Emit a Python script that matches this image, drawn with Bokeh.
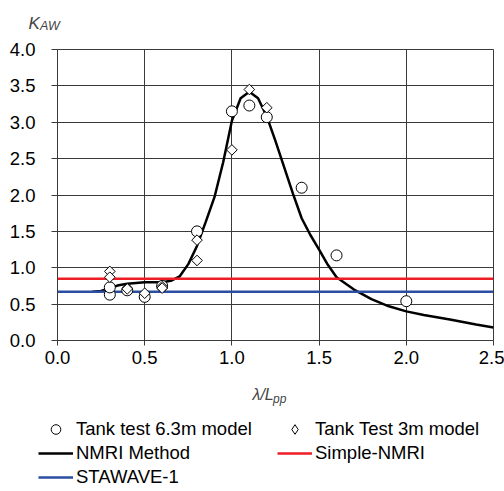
from bokeh.plotting import figure
from bokeh.layouts import column, row
from bokeh.models import (FixedTicker, Label, Legend, LegendItem, NumeralTickFormatter)
from bokeh.embed import file_html
from bokeh.resources import INLINE

# ---- data ----
tank63_x = [0.3, 0.3, 0.4, 0.5, 0.6, 0.8, 1.0, 1.1, 1.2, 1.4, 1.6, 2.0]
tank63_y = [0.63, 0.73, 0.69, 0.60, 0.75, 1.50, 3.15, 3.23, 3.07, 2.10, 1.17, 0.54]

tank3_x = [0.3, 0.3, 0.4, 0.5, 0.6, 0.6, 0.8, 0.8, 1.0, 1.1, 1.2]
tank3_y = [0.95, 0.87, 0.71, 0.65, 0.74, 0.72, 1.38, 1.10, 2.62, 3.45, 3.20]

nmri_x = [0.2, 0.25, 0.3, 0.35, 0.4, 0.45, 0.5, 0.55, 0.6, 0.65, 0.7, 0.75, 0.8,
          0.85, 0.9, 0.95, 1.0, 1.05, 1.1, 1.15, 1.2, 1.25, 1.3, 1.35, 1.4, 1.45,
          1.5, 1.55, 1.6, 1.7, 1.8, 1.9, 2.0, 2.1, 2.25, 2.4, 2.5]
nmri_y = [0.67, 0.68, 0.72, 0.76, 0.78, 0.79, 0.80, 0.80, 0.80, 0.82, 0.88, 1.05, 1.30,
          1.63, 1.97, 2.45, 3.02, 3.33, 3.42, 3.33, 3.08, 2.74, 2.38, 2.02, 1.68, 1.45,
          1.25, 1.04, 0.87, 0.70, 0.57, 0.47, 0.40, 0.35, 0.29, 0.22, 0.18]

simple_x = [0.0, 2.5]
simple_y = [0.85, 0.85]

stawave_x = [0.0, 2.5]
stawave_y = [0.67, 0.67]

x_ticks = [0.0, 0.5, 1.0, 1.5, 2.0, 2.5]
y_ticks = [0.0, 0.5, 1.0, 1.5, 2.0, 2.5, 3.0, 3.5, 4.0]

series_labels = ["Tank test 6.3m model", "Tank Test 3m model", "NMRI Method",
                 "Simple-NMRI", "STAWAVE-1"]

FONT = "Liberation Sans"
GRID = "#3a3a3a"
RED = "#ee1c25"
BLUE = "#2b4ea2"

TOP_H = 40
MAIN_H = 336
BOT_H = 491 - TOP_H - MAIN_H


def blank(h, xr=(0, 1), yr=(0, 1)):
    f = figure(width=504, height=h, x_range=xr, y_range=yr,
               output_backend="svg", toolbar_location=None,
               min_border_left=0, min_border_right=0, min_border_top=0,
               min_border_bottom=0, x_axis_type=None, y_axis_type=None)
    f.grid.visible = False
    f.outline_line_color = None
    f.background_fill_color = "white"
    f.border_fill_color = "white"
    return f


# ---- top strip: y-axis title K_AW ----
top = blank(TOP_H)
top.add_layout(Label(x=28, y=TOP_H - 23, x_units="screen", y_units="screen", text="K",
                     text_font=FONT, text_font_style="italic", text_font_size="17px",
                     text_baseline="alphabetic"))
top.add_layout(Label(x=39.5, y=TOP_H - 25, x_units="screen", y_units="screen", text="AW",
                     text_font=FONT, text_font_style="italic", text_font_size="12.5px",
                     text_baseline="alphabetic"))

# ---- main chart ----
p = figure(width=504, height=MAIN_H, x_range=(0, 2.5), y_range=(0, 4),
           output_backend="svg", toolbar_location=None,
           min_border_left=57, min_border_right=11, min_border_top=49 - TOP_H,
           min_border_bottom=36)
p.background_fill_color = "white"
p.border_fill_color = "white"
p.outline_line_color = GRID
p.outline_line_width = 1

for ax in (p.xaxis[0], p.yaxis[0]):
    ax.major_label_text_font = FONT
    ax.major_label_text_font_size = "18.5px"
    ax.major_label_text_color = "black"
    ax.axis_line_color = GRID
    ax.major_tick_line_color = GRID
    ax.major_tick_in = 0
    ax.minor_tick_line_color = None
    ax.formatter = NumeralTickFormatter(format="0.0")

p.xaxis[0].ticker = FixedTicker(ticks=x_ticks)
p.yaxis[0].ticker = FixedTicker(ticks=y_ticks)
p.xaxis[0].major_tick_out = 5
p.yaxis[0].major_tick_out = 6
p.xaxis[0].major_label_standoff = 5
p.yaxis[0].major_label_standoff = 16

p.xgrid[0].ticker = FixedTicker(ticks=x_ticks)
p.ygrid[0].ticker = FixedTicker(ticks=y_ticks)
p.xgrid.grid_line_color = GRID
p.ygrid.grid_line_color = GRID
p.xgrid.grid_line_width = 1
p.ygrid.grid_line_width = 1

line_style = dict(line_width=2.5)
circ_style = dict(marker="circle", size=11, fill_color="white", line_color="black",
                  line_width=1)
diam_style = dict(marker="square", size=7.5, angle=0.785398, fill_color="white",
                  line_color="black", line_width=1)

p.line(nmri_x, nmri_y, line_color="black", **line_style)
p.line(simple_x, simple_y, line_color=RED, **line_style)
p.line(stawave_x, stawave_y, line_color=BLUE, **line_style)
p.scatter(tank63_x, tank63_y, **circ_style)
p.scatter(tank3_x, tank3_y, **diam_style)

# ---- bottom strip: x-axis title and legend ----
# legend proxies: the same series, drawn in a range where they stay out of view
bot = blank(BOT_H, xr=(10, 11), yr=(10, 11))
y0 = 491 - BOT_H  # global y of strip top
bot.add_layout(Label(x=252, y=BOT_H - (394 - y0), x_units="screen", y_units="screen",
                     text="λ/L", text_font=FONT, text_font_style="italic",
                     text_font_size="16px", text_baseline="alphabetic"))
bot.add_layout(Label(x=272.5, y=BOT_H - (398 - y0), x_units="screen", y_units="screen",
                     text="pp", text_font=FONT, text_font_style="italic",
                     text_font_size="12px", text_baseline="alphabetic"))

lg_c = bot.scatter(tank63_x, tank63_y, marker="circle", fill_color="white",
                   line_color="black", line_width=1)
lg_d = bot.scatter(tank3_x, tank3_y, marker="diamond", fill_color="white",
                   line_color="black", line_width=1)
lg_n = bot.line(nmri_x, nmri_y, line_color="black", **line_style)
lg_s = bot.line(simple_x, simple_y, line_color=RED, **line_style)
lg_b = bot.line(stawave_x, stawave_y, line_color=BLUE, **line_style)

legend = Legend(items=[
    LegendItem(label=series_labels[0], renderers=[lg_c]),
    LegendItem(label=series_labels[1], renderers=[lg_d]),
    LegendItem(label=series_labels[2], renderers=[lg_n]),
    LegendItem(label=series_labels[3], renderers=[lg_s]),
    LegendItem(label=series_labels[4], renderers=[lg_b]),
], orientation="horizontal", ncols=2, location=(38, BOT_H - (489 - y0)))
legend.border_line_color = None
legend.background_fill_alpha = 0
legend.padding = 0
legend.margin = 0
legend.spacing = 0
legend.glyph_width = 35
legend.glyph_height = 24
legend.label_height = 20
legend.label_width = 201
legend.label_standoff = 3
legend.label_text_font = FONT
legend.label_text_font_size = "18.5px"
legend.label_text_color = "black"
bot.add_layout(legend, "center")

layout = column(row(top), p, row(bot), spacing=0)
open("out.html", "w").write(file_html(layout, INLINE))
